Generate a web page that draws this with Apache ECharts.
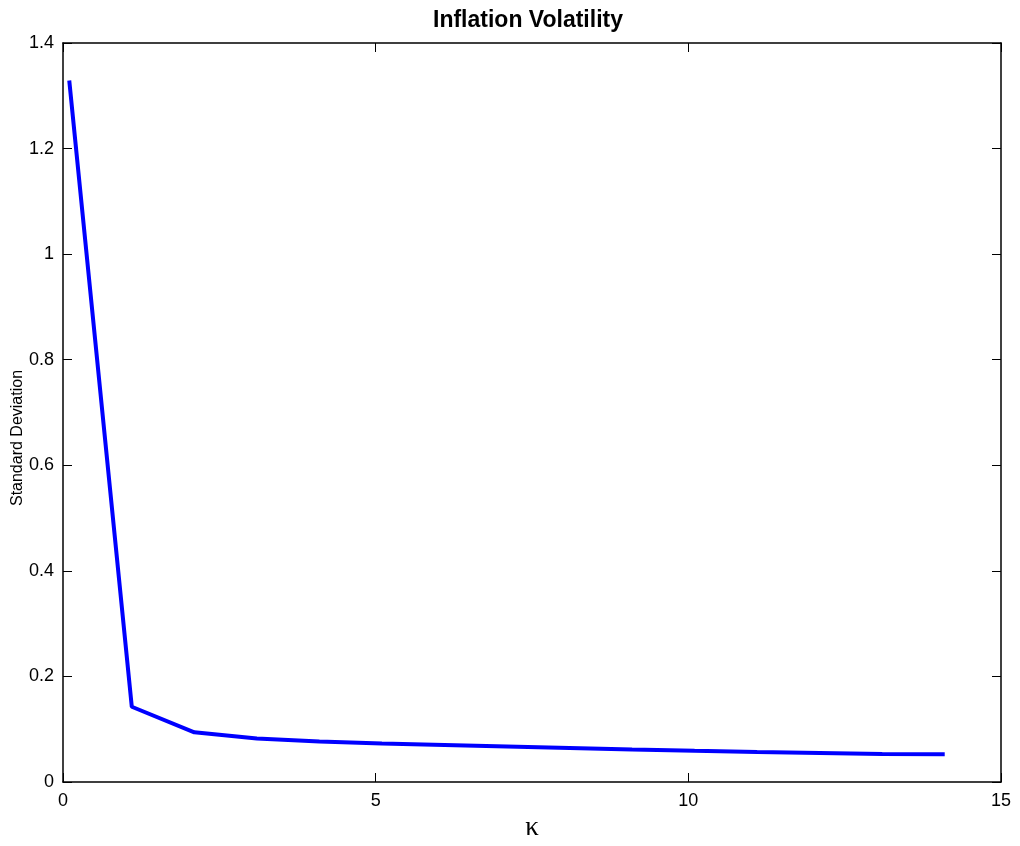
<!DOCTYPE html>
<html><head><meta charset="utf-8">
<script src="https://cdn.jsdelivr.net/npm/echarts@6/dist/echarts.min.js"></script>
<style>html,body{margin:0;padding:0;background:#fff}#c{width:1020px;height:846px}</style>
</head><body><div id="c"></div>
<script>
const kappa = [0.1, 1.1, 2.1, 3.1, 4.1, 5.1, 6.1, 7.1, 8.1, 9.1, 10.1, 11.1, 12.1, 13.1, 14.1];
const stdDev = [1.329, 0.1426, 0.0941, 0.0824, 0.0767, 0.0729, 0.0700, 0.0672, 0.0644, 0.0615, 0.0590, 0.0568, 0.0549, 0.0530, 0.0525];
const xTicks = [0, 5, 10, 15];
const yTicks = [0, 0.2, 0.4, 0.6, 0.8, 1, 1.2, 1.4];

const chart = echarts.init(document.getElementById('c'));
const font = 'Liberation Sans, Arial, sans-serif';
const axisLine = {show: true, onZero: false, lineStyle: {color: '#000', width: 1.5}};
const tick = {show: true, inside: true, length: 9, lineStyle: {color: '#000', width: 1}};
chart.setOption({
  animation: false,
  backgroundColor: '#fff',
  graphic: [{
    type: 'text', x: 528, y: 21,
    style: {text: 'Inflation Volatility', fontFamily: font, fontSize: 23, fontWeight: 'bold', fill: '#000',
      align: 'center', verticalAlign: 'middle'}
  }, {
    type: 'text', x: 18, y: 438, rotation: Math.PI / 2,
    style: {text: 'Standard Deviation', fontFamily: font, fontSize: 16, fill: '#000',
      align: 'center', verticalAlign: 'middle'}
  }],
  grid: {left: 63, right: 19, top: 43, bottom: 64, containLabel: false, outerBoundsMode: 'none'},
  xAxis: [
    {type: 'value', min: 0, max: 15, interval: 5, position: 'bottom',
     name: 'κ', nameLocation: 'middle', nameGap: 31,
     nameTextStyle: {fontFamily: 'Liberation Serif, Times New Roman, serif', fontSize: 27, color: '#000'},
     axisLine: axisLine, axisTick: tick, splitLine: {show: false},
     axisLabel: {fontFamily: font, fontSize: 18, color: '#000', margin: 10,
       customValues: xTicks, formatter: v => String(v)}},
    {type: 'value', min: 0, max: 15, interval: 5, position: 'top',
     axisLine: axisLine, axisTick: tick, splitLine: {show: false}, axisLabel: {show: false}}
  ],
  yAxis: [
    {type: 'value', min: 0, max: 1.4, interval: 0.2, position: 'left',
     axisLine: axisLine, axisTick: tick, splitLine: {show: false},
     axisLabel: {fontFamily: font, fontSize: 18, color: '#000', margin: 9,
       formatter: v => String(Math.round(v * 10) / 10)}},
    {type: 'value', min: 0, max: 1.4, interval: 0.2, position: 'right',
     axisLine: axisLine, axisTick: tick, splitLine: {show: false}, axisLabel: {show: false}}
  ],
  series: [{
    type: 'line', xAxisIndex: 0, yAxisIndex: 0,
    data: kappa.map((k, i) => [k, stdDev[i]]),
    showSymbol: false, symbol: 'none',
    lineStyle: {color: '#0000ff', width: 4},
    itemStyle: {color: '#0000ff'}
  }]
});
</script></body></html>
